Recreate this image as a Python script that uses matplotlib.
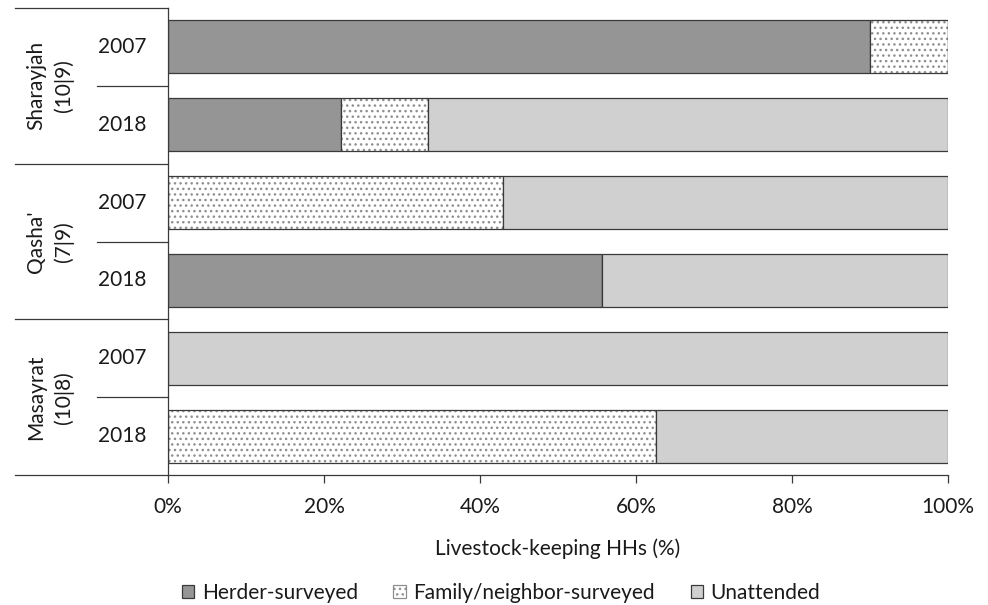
import matplotlib
matplotlib.use("Agg")
import matplotlib.pyplot as plt
import matplotlib.transforms as mtransforms
from matplotlib.patches import Patch
import numpy as np

plt.rcParams['font.family'] = ['Lato', 'DejaVu Sans']
plt.rcParams['hatch.linewidth'] = 1.0

# Sites with household counts (2007 | 2018)
sites = ["Sharayjah\n(10|9)", "Qasha'\n(7|9)", "Masayrat\n(10|8)"]
years = ["2007", "2018"]

# Share of livestock-keeping households (%), top to bottom
herder = [90.0, 22.2, 0.0, 55.6, 0.0, 0.0]
family = [10.0, 11.1, 42.9, 0.0, 0.0, 62.5]
unattended = [0.0, 66.7, 57.1, 44.4, 100.0, 37.5]

series_names = ["Herder-surveyed", "Family/neighbor-surveyed", "Unattended"]
xticks = [0, 20, 40, 60, 80, 100]

edge = "#3a3a3a"
c_herder = "#959595"
c_unatt = "#d0d0d0"
c_dots = "#8f8f8f"
txt = "#1a1a1a"
fs = 15

fig = plt.figure(figsize=(9.88, 6.05), dpi=100)
ax = fig.add_axes([168 / 988, 1 - 475 / 605, 780 / 988, 467 / 605])

n = len(herder)
y = np.arange(n)
h = 0.68
herder_a = np.array(herder)
family_a = np.array(family)
unatt_a = np.array(unattended)

ax.barh(y, herder_a, height=h, color=c_herder, edgecolor=edge, linewidth=0.9)
# dotted fill for family/neighbor share, outlined separately
ax.barh(y, family_a, left=herder_a, height=h, color="white",
        edgecolor=c_dots, linewidth=0, hatch="...")
ax.barh(y, family_a, left=herder_a, height=h, fill=False,
        edgecolor=edge, linewidth=0.9)
ax.barh(y, unatt_a, left=herder_a + family_a, height=h, color=c_unatt,
        edgecolor=edge, linewidth=0.9)

ax.set_xlim(0, 100)
ax.set_ylim(n - 0.5, -0.5)
ax.set_xticks(xticks)
ax.set_xticklabels([f"{t}%" for t in xticks], fontsize=fs, color=txt)
ax.set_yticks([])
ax.tick_params(axis='x', direction='out', length=6, width=0.9, color=edge, pad=10)
for s in ["top", "right"]:
    ax.spines[s].set_visible(False)
for s in ["left", "bottom"]:
    ax.spines[s].set_color(edge)
    ax.spines[s].set_linewidth(0.9)

ax.set_xlabel("Livestock-keeping HHs (%)", fontsize=fs, color=txt, labelpad=15)

# Multi-level category axis
trans = mtransforms.blended_transform_factory(ax.transAxes, ax.transData)
x_group = (15 - 168) / 780
x_year = (97 - 168) / 780
for g in range(len(sites) + 1):
    yy = g * 2 - 0.5
    ax.plot([x_group, 0], [yy, yy], color=edge, lw=0.9, transform=trans, clip_on=False)
for g in range(len(sites)):
    yy = g * 2 + 0.5
    ax.plot([x_year, 0], [yy, yy], color=edge, lw=0.9, transform=trans, clip_on=False)
    ax.text((50 - 168) / 780, g * 2 + 0.5, sites[g], rotation=90, ha="center", va="center",
            multialignment="center", fontsize=fs, color=txt, transform=trans,
            linespacing=1.45)
    for k, yr in enumerate(years):
        ax.text((122 - 168) / 780, g * 2 + k, yr, ha="center", va="center",
                fontsize=fs, color=txt, transform=trans)

handles = [
    Patch(facecolor=c_herder, edgecolor=edge, linewidth=0.9),
    Patch(facecolor="white", edgecolor=c_dots, hatch="...", linewidth=0.9),
    Patch(facecolor=c_unatt, edgecolor=edge, linewidth=0.9),
]
fig.legend(handles, series_names, loc="center", ncol=3,
           bbox_to_anchor=(501 / 988, 1 - 593 / 605), frameon=False,
           fontsize=fs, handlelength=0.62, handleheight=0.62, handletextpad=0.35,
           columnspacing=1.7, labelcolor=txt)

fig.savefig("out.png", dpi=100)
